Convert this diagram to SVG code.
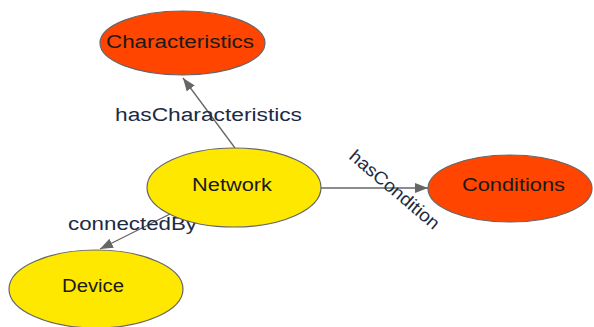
<svg xmlns="http://www.w3.org/2000/svg" width="594" height="327" viewBox="0 0 594 327">
<style>
.node{stroke:#666;stroke-width:1.2}
.orange{fill:#FF4500}
.yellow{fill:#FFE800}
.ntext{font-family:"Liberation Sans",Arial,sans-serif;font-size:18px;fill:#1a1a1a;text-anchor:start}
.etext{font-family:"Liberation Sans",Arial,sans-serif;font-size:18px;fill:#1c2a45}
.edge{stroke:#666;stroke-width:1.3;fill:none}
</style>
<defs>
<marker id="arr" markerUnits="userSpaceOnUse" markerWidth="14" markerHeight="11" refX="13" refY="5" orient="auto">
<path d="M0,0 L13,5 L0,10 z" fill="#666"/>
</marker>
</defs>
<rect width="594" height="327" fill="#fff"/>
<g id="connectors">
<line class="edge" x1="235" y1="148" x2="183" y2="78" marker-end="url(#arr)"/>
<line class="edge" x1="321" y1="188" x2="428" y2="188" marker-end="url(#arr)"/>
<line class="edge" x1="170" y1="214" x2="100" y2="249" marker-end="url(#arr)"/>
<text class="etext" x="115" y="121" textLength="187" lengthAdjust="spacingAndGlyphs">hasCharacteristics</text>
<text class="etext" x="348" y="158" transform="rotate(40.3 348 158)" textLength="112" lengthAdjust="spacingAndGlyphs">hasCondition</text>
<text class="etext" x="68" y="230" textLength="129" lengthAdjust="spacingAndGlyphs">connectedBy</text>
</g>
<g id="characteristics">
<ellipse class="node orange" cx="182.5" cy="43" rx="82.5" ry="32"/>
<text class="ntext" x="106" y="48" textLength="148" lengthAdjust="spacingAndGlyphs">Characteristics</text>
</g>
<g id="network">
<ellipse class="node yellow" cx="234" cy="187.5" rx="87" ry="39.5"/>
<text class="ntext" x="192" y="191" textLength="80" lengthAdjust="spacingAndGlyphs">Network</text>
</g>
<g id="conditions">
<ellipse class="node orange" cx="510" cy="188.5" rx="82" ry="33.5"/>
<text class="ntext" x="462" y="191" textLength="103" lengthAdjust="spacingAndGlyphs">Conditions</text>
</g>
<g id="device">
<ellipse class="node yellow" cx="96" cy="289" rx="87" ry="39"/>
<text class="ntext" x="62" y="292" textLength="62" lengthAdjust="spacingAndGlyphs">Device</text>
</g>
</svg>
